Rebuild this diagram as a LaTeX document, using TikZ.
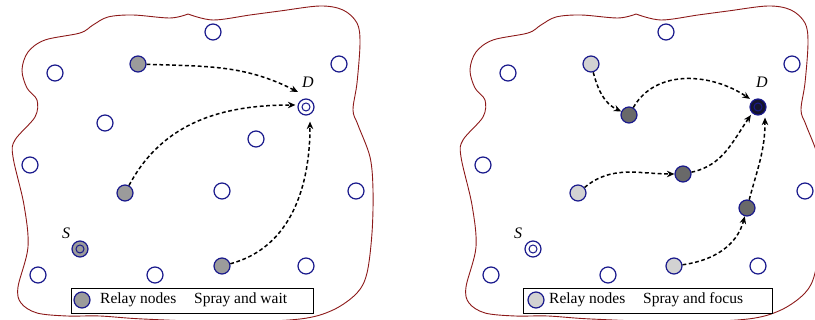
\documentclass[tikz,border=0pt]{standalone}
\usepackage{fontspec}
\setmainfont{Liberation Serif}
\usetikzlibrary{arrows.meta}
\definecolor{nv}{RGB}{25,25,140}
\definecolor{br}{RGB}{140,25,25}
\definecolor{relayA}{RGB}{155,155,155}
\definecolor{relayL}{RGB}{210,210,210}
\definecolor{relayD}{RGB}{105,105,105}
\definecolor{dest}{RGB}{20,20,45}
\begin{document}
\begin{tikzpicture}[x=1pt,y=1pt,
  nd/.style={circle,draw=nv,line width=1.2pt,minimum size=16pt,inner sep=0pt,fill=white},
  relay/.style={nd,fill=relayA},
  light/.style={nd,fill=relayL},
  dark/.style={nd,fill=relayD},
  inner/.style={draw=nv,line width=1pt},
  arr/.style={line width=1.5pt,dash pattern=on 3.8pt off 2.6pt,-{Stealth[length=7.5pt,width=6.5pt]}},
  bound/.style={draw=br,line width=0.9pt},
  lbl/.style={font=\fontsize{16}{18}\selectfont\itshape,inner sep=0pt},
  leg/.style={font=\fontsize{15.5}{18}\selectfont,anchor=west,inner sep=0pt},
  legbox/.style={draw,line width=0.9pt,minimum height=25pt,inner sep=0pt}]
\useasboundingbox (0,0) rectangle (815,-320);

% ---------------- boundaries ----------------
\def\blob{plot[smooth,tension=0.55] coordinates {(188,-14) (213,-20) (250,-15) (280,-11) (320,-6) (343,-10) (357,-23) (360,-43) (357,-83) (353,-110) (358,-125) (370,-157) (373,-190) (372,-233) (367,-273) (357,-293) (333,-310) (300,-319) (230,-322) (143,-319) (100,-316) (67,-316) (37,-313) (21,-303) (18,-287) (28,-247) (24,-205) (13,-157) (15,-140) (35,-117) (37,-100) (27,-88) (22,-70) (28,-52) (45,-40) (80,-33) (93,-25) (108,-17) (133,-15) (170,-18) (188,-14)}}
\draw[bound] \blob;
\begin{scope}[xshift=448pt]
\draw[bound] \blob;
\end{scope}

% ---------------- left panel ----------------
\node[nd] (a1) at (213,-32) {};
\node[relay] (ar1) at (138,-64) {};
\node[nd] (a2) at (55,-73) {};
\node[nd] (a3) at (339,-64) {};
\node[nd] (aD) at (306,-107) {};
\draw[inner] (aD) circle (4pt);
\node[lbl] (aDl) at (308,-82) {D};
\node[nd] (a4) at (105,-123) {};
\node[nd] (a5) at (256,-139) {};
\node[nd] (a6) at (30,-165) {};
\node[relay] (ar2) at (125,-193) {};
\node[nd] (a7) at (222,-191) {};
\node[nd] (a8) at (356,-191) {};
\node[relay] (aS) at (80,-249) {};
\draw[inner] (aS) circle (4pt);
\node[lbl] (aSl) at (66,-233) {S};
\node[nd] (a9) at (38,-275) {};
\node[nd] (a10) at (155,-275) {};
\node[relay] (ar3) at (222,-266) {};
\node[nd] (a11) at (306,-266) {};

\draw[arr] (ar1) to[out=-2,in=153] ([shift={(-8pt,15pt)}]aD.center);
\draw[arr] (ar2) to[out=62,in=180] ([shift={(-2pt,2pt)}]aD.west);
\draw[arr] (ar3) to[out=15,in=-90] ([shift={(4pt,-6pt)}]aD.south);

\node[legbox,minimum width=242pt] (aLeg) at (192,-300.5) {};
\node[relay] (aLc) at (82,-300) {};
\node[leg] (aLt1) at (100,-300) {Relay nodes};
\node[leg] (aLt2) at (194,-300) {Spray and wait};

% ---------------- right panel ----------------
\node[nd] (b1) at (666,-32) {};
\node[light] (bl1) at (591,-64) {};
\node[nd] (b2) at (508,-73) {};
\node[nd] (b3) at (792,-64) {};
\node[nd,fill=dest] (bD) at (758,-107) {};
\draw[inner] (bD) circle (4pt);
\node[lbl] (bDl) at (762,-82) {D};
\node[dark] (bg1) at (629,-115) {};
\node[nd] (b6) at (483,-165) {};
\node[light] (bl2) at (578,-193) {};
\node[dark] (bg2) at (683,-174) {};
\node[nd] (b8) at (805,-191) {};
\node[dark] (bg3) at (747,-208) {};
\node[nd] (bS) at (533,-249) {};
\draw[inner] (bS) circle (4pt);
\node[lbl] (bSl) at (518,-233) {S};
\node[nd] (b9) at (491,-275) {};
\node[nd] (b10) at (608,-275) {};
\node[light] (bl3) at (674,-266) {};
\node[nd] (b11) at (758,-266) {};

\draw[arr] (bl1) to[out=-75,in=155] (bg1);
\draw[arr] (bg1) to[out=60,in=146] ([shift={(-2pt,2pt)}]bD.north west);
\draw[arr] (bl2) to[out=40,in=180] (bg2);
\draw[arr] (bg2) to[out=12,in=-125] ([shift={(-1pt,-2pt)}]bD.south west);
\draw[arr] (bl3) to[out=8,in=-105] (bg3);
\draw[arr] (bg3) to[out=75,in=-90] ([shift={(7pt,-2pt)}]bD.south);

\node[legbox,minimum width=249pt] (bLeg) at (647.5,-300.5) {};
\node[light] (bLc) at (536,-300) {};
\node[leg] (bLt1) at (549,-300) {Relay nodes};
\node[leg] (bLt2) at (643,-300) {Spray and focus};
\end{tikzpicture}
\end{document}
